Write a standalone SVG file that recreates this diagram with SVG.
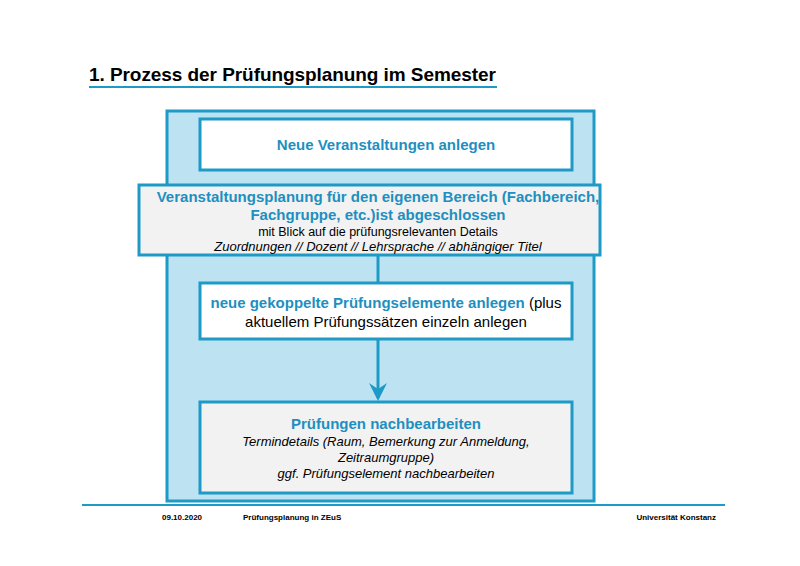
<svg xmlns="http://www.w3.org/2000/svg" width="800" height="566" viewBox="0 0 800 566">
<style>
.b{stroke:#1d9ac6;stroke-width:3}
.t{font-family:"Liberation Sans",Arial,sans-serif;text-anchor:middle}
.h{fill:#1d8fc0;font-weight:bold;font-size:15px}
.n{fill:#000;font-size:15px}
.s{fill:#000;font-size:12.5px}
.i{font-style:italic;font-size:13px}
.f{font-family:"Liberation Sans",Arial,sans-serif;font-size:8px;font-weight:bold;fill:#000}
</style>
<defs><marker id="a" markerWidth="6" markerHeight="6" refX="5" refY="3" orient="auto" markerUnits="strokeWidth"><path d="M0,0 L6,3 L0,6 L2,3 z" fill="#1d9ac6"/></marker></defs>
<rect width="800" height="566" fill="#fff"/>
<text x="89" y="81" font-family="Liberation Sans,Arial,sans-serif" font-size="19" font-weight="bold" textLength="407">1. Prozess der Prüfungsplanung im Semester</text>
<line x1="89" y1="87" x2="497" y2="87" stroke="#1d9ac6" stroke-width="2"/>
<rect id="container" x="167" y="111" width="427" height="390" fill="#bde3f2" class="b"/>
<g id="connectors">
<line x1="378" y1="255" x2="378" y2="283" class="b"/>
<line x1="378" y1="339" x2="378" y2="398" class="b" marker-end="url(#a)"/>
</g>
<g id="n1"><rect x="200" y="119" width="372" height="51" fill="#fff" class="b"/>
<text x="386" y="150" class="t h">Neue Veranstaltungen anlegen</text></g>
<g id="n2"><rect x="139" y="185" width="461" height="70" fill="#f2f2f2" class="b"/>
<text x="378" y="202" class="t h">Veranstaltungsplanung  für den eigenen Bereich (Fachbereich,</text>
<text x="378" y="220" class="t h">Fachgruppe, etc.)ist abgeschlossen</text>
<text x="378" y="236" class="t s">mit Blick auf die prüfungsrelevanten Details</text>
<text x="378" y="251" class="t s i">Zuordnungen //  Dozent // Lehrsprache // abhängiger Titel</text></g>
<g id="n3"><rect x="200" y="283" width="372" height="56" fill="#fff" class="b"/>
<text x="386" y="308" class="t n"><tspan class="h">neue gekoppelte Prüfungselemente anlegen</tspan> (plus</text>
<text x="386" y="327" class="t n">aktuellem Prüfungssätzen einzeln anlegen</text></g>
<g id="n4"><rect x="200" y="402" width="372" height="91" fill="#f2f2f2" class="b"/>
<text x="386" y="429" class="t h">Prüfungen nachbearbeiten</text>
<text x="386" y="446" class="t s i">Termindetails (Raum, Bemerkung zur Anmeldung,</text>
<text x="386" y="462" class="t s i">Zeitraumgruppe)</text>
<text x="386" y="478" class="t s i">ggf. Prüfungselement nachbearbeiten</text></g>
<line x1="82" y1="505" x2="725" y2="505" stroke="#1d9ac6" stroke-width="2"/>
<text x="162" y="520" class="f">09.10.2020</text>
<text x="243" y="520" class="f">Prüfungsplanung  in ZEuS</text>
<text x="716" y="520" class="f" text-anchor="end">Universität Konstanz</text>
</svg>
